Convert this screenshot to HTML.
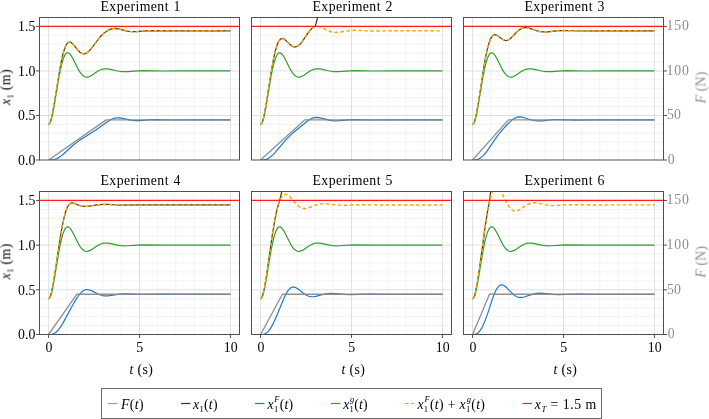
<!DOCTYPE html>
<html><head><meta charset="utf-8"><title>Experiments</title>
<style>
html,body{margin:0;padding:0;background:#fff;}
svg{display:block;}
text{font-family:"Liberation Serif", serif;will-change:transform;}
</style></head><body>
<svg width="709" height="419" viewBox="0 0 709 419">
<rect width="709" height="419" fill="#fff"/>
<clipPath id="c0"><rect x="39.5" y="17.5" width="200.0" height="142.5"/></clipPath>
<path d="M66.77,17.5V160.0M84.95,17.5V160.0M103.14,17.5V160.0M121.32,17.5V160.0M157.68,17.5V160.0M175.86,17.5V160.0M194.05,17.5V160.0M212.23,17.5V160.0M39.5,151.09H239.5M39.5,142.19H239.5M39.5,133.28H239.5M39.5,124.38H239.5M39.5,106.56H239.5M39.5,97.66H239.5M39.5,88.75H239.5M39.5,79.84H239.5M39.5,62.03H239.5M39.5,53.13H239.5M39.5,44.22H239.5M39.5,35.31H239.5" stroke="#f3f3f3" stroke-width="1" fill="none"/>
<path d="M48.59,17.5V160.0M139.5,17.5V160.0M230.41,17.5V160.0M39.5,115.47H239.5M39.5,70.94H239.5M39.5,26.41H239.5" stroke="#e0e0e0" stroke-width="1" fill="none"/>
<g clip-path="url(#c0)" fill="none" stroke-width="1.2" stroke-linejoin="round">
<path d="M48.59,124.38 L49.03,124.21 L49.5,123.7 L50.48,121.63 L51.46,118.34 L52.55,113.51 L54.48,102.77 L59.61,70.51 L61.14,62.25 L62.59,55.59 L64.05,50.27 L65.46,46.42 L66.92,43.81 L67.68,42.94 L68.45,42.39 L69.17,42.14 L69.94,42.14 L70.74,42.4 L71.57,42.89 L73.39,44.6 L77.65,49.85 L79.72,51.99 L80.85,52.84 L81.94,53.43 L83.03,53.75 L84.12,53.81 L85.39,53.55 L86.66,52.94 L88.01,51.98 L89.46,50.6 L92.01,47.6 L99.06,38.26 L101.32,35.71 L103.54,33.56 L105.94,31.64 L108.34,30.12 L110.52,29.14 L112.66,28.6 L114.77,28.45 L117.06,28.65 L119.39,29.11 L127.25,31.08 L130.12,31.5 L132.99,31.67 L136.55,31.59 L146.23,30.79 L151.86,30.58 L170.77,30.95 L189.46,30.83 L230.41,30.86" stroke="#333333"/>
<path d="M48.59,160 L51.79,159.9 L54.3,159.47 L56.74,158.61 L59.21,157.26 L61.21,155.87 L63.46,154.03 L73.68,144.82 L78.81,140.87 L82.52,138.39 L95.14,130.43 L109.28,120.49 L112.12,118.96 L114.81,118.07 L117.25,117.77 L119.9,117.89 L122.41,118.32 L130.41,120.12 L133.28,120.5 L136.15,120.65 L139.68,120.58 L149.35,119.86 L154.95,119.67 L173.86,120.01 L192.52,119.89 L230.41,119.92" stroke="#2079c7"/>
<path d="M48.59,124.38 L49.03,124.21 L49.46,123.76 L50.37,121.94 L51.32,118.96 L52.34,114.72 L54.15,105.23 L58.99,76.76 L60.41,69.58 L61.75,63.82 L63.1,59.23 L64.41,55.96 L65.06,54.76 L65.75,53.81 L66.45,53.16 L67.14,52.82 L68.08,52.79 L69.06,53.25 L70.08,54.19 L71.17,55.64 L73.14,59.05 L78.19,69.16 L79.65,71.63 L81.03,73.6 L82.3,75.03 L83.57,76.09 L84.88,76.79 L86.19,77.11 L87.14,77.12 L88.12,76.97 L90.23,76.17 L92.23,74.99 L97.28,71.54 L100.12,70.03 L102.63,69.19 L105.21,68.84 L107.14,68.88 L109.28,69.15 L116.41,70.74 L119.21,71.25 L121.68,71.53 L124.19,71.65 L127.75,71.58 L137.46,70.88 L143.14,70.7 L162.08,71.02 L180.88,70.91 L230.41,70.94" stroke="#2ea02e"/>
<path d="M48.59,124.38 L49.03,124.21 L49.5,123.7 L50.48,121.63 L51.46,118.34 L52.55,113.51 L54.48,102.77 L59.61,70.51 L61.14,62.25 L62.59,55.59 L64.05,50.27 L65.46,46.42 L66.92,43.81 L67.68,42.94 L68.45,42.39 L69.17,42.14 L69.94,42.14 L70.74,42.4 L71.57,42.89 L73.39,44.6 L77.65,49.85 L79.72,51.99 L80.85,52.84 L81.94,53.43 L83.03,53.75 L84.12,53.81 L85.39,53.55 L86.66,52.94 L88.01,51.98 L89.46,50.6 L92.01,47.6 L99.06,38.26 L101.32,35.71 L103.54,33.56 L105.94,31.64 L108.34,30.12 L110.52,29.14 L112.66,28.6 L114.77,28.45 L117.06,28.65 L119.39,29.11 L127.25,31.08 L130.12,31.5 L132.99,31.67 L136.55,31.59 L146.23,30.79 L151.86,30.58 L170.77,30.95 L189.46,30.83 L230.41,30.86" stroke="#ffa500" stroke-dasharray="3.6 2.4" stroke-width="1.45"/>
<path d="M39.5,26.41H239.5" stroke="#ff1f1f"/>
<path d="M48.59,160 L106.23,119.92 L230.41,119.92" stroke="#858585" stroke-opacity="0.9" stroke-width="1.35"/>
</g>
<rect x="39.5" y="17.5" width="200.0" height="142.5" fill="none" stroke="#505050" stroke-width="1"/>
<path d="M36.0,160H39.5M36.0,115.47H39.5M36.0,70.94H39.5M36.0,26.41H39.5" stroke="#505050" stroke-width="1" fill="none"/>
<text x="100.5" y="10.6" font-size="13.8" textLength="68" lengthAdjust="spacing">Experiment</text>
<text x="173.5" y="10.6" font-size="13.8">1</text>
<text x="35.5" y="164.7" font-size="13.8" text-anchor="end" textLength="17.4" lengthAdjust="spacing">0.0</text>
<text x="35.5" y="120.17" font-size="13.8" text-anchor="end" textLength="17.4" lengthAdjust="spacing">0.5</text>
<text x="35.5" y="75.64" font-size="13.8" text-anchor="end" textLength="17.4" lengthAdjust="spacing">1.0</text>
<text x="35.5" y="31.11" font-size="13.8" text-anchor="end" textLength="17.4" lengthAdjust="spacing">1.5</text>
<text transform="translate(10.3,87.25) rotate(-90)" font-size="13.8" text-anchor="middle" textLength="35.5" lengthAdjust="spacing"><tspan font-style="italic">x</tspan><tspan font-size="8.5" dy="3.4">1</tspan><tspan dy="-3.4"> (m)</tspan></text>
<clipPath id="c1"><rect x="251.5" y="17.5" width="200.0" height="142.5"/></clipPath>
<path d="M278.77,17.5V160.0M296.95,17.5V160.0M315.14,17.5V160.0M333.32,17.5V160.0M369.68,17.5V160.0M387.86,17.5V160.0M406.05,17.5V160.0M424.23,17.5V160.0M251.5,151.09H451.5M251.5,142.19H451.5M251.5,133.28H451.5M251.5,124.38H451.5M251.5,106.56H451.5M251.5,97.66H451.5M251.5,88.75H451.5M251.5,79.84H451.5M251.5,62.03H451.5M251.5,53.13H451.5M251.5,44.22H451.5M251.5,35.31H451.5" stroke="#f3f3f3" stroke-width="1" fill="none"/>
<path d="M260.59,17.5V160.0M351.5,17.5V160.0M442.41,17.5V160.0M251.5,115.47H451.5M251.5,70.94H451.5M251.5,26.41H451.5" stroke="#e0e0e0" stroke-width="1" fill="none"/>
<g clip-path="url(#c1)" fill="none" stroke-width="1.2" stroke-linejoin="round">
<path d="M260.59,124.38 L260.99,124.24 L261.43,123.8 L262.3,122.11 L263.21,119.28 L264.19,115.2 L266.19,104.36 L270.95,73.58 L273.28,60.23 L274.55,54.13 L275.83,49.04 L277.1,44.99 L278.37,41.97 L279.39,40.28 L280.41,39.16 L281.5,38.55 L282.63,38.47 L283.72,38.82 L284.95,39.62 L290.37,44.84 L291.75,45.89 L293.06,46.58 L294.59,46.94 L296.08,46.81 L297.57,46.19 L299.14,45.05 L300.7,43.48 L302.37,41.39 L307.9,33.18 L310.15,30.24 L311.43,28.89 L312.66,27.85 L313.9,27.06 L315.14,26.55 L321.46,4.14 L442.41,4.14" stroke="#333333"/>
<path d="M260.59,160 L263.68,159.88 L266.08,159.37 L268.45,158.34 L270.81,156.74 L272.63,155.15 L274.63,153.11 L285.14,140.71 L288.26,137.4 L291.46,134.35 L295.28,131.06 L308.12,120.58 L311.14,118.69 L312.59,118.07 L314.01,117.66 L316.3,117.38 L318.81,117.56 L321.25,118.05 L329.25,120.16 L332.12,120.6 L335.03,120.78 L339.1,120.65 L348.99,119.8 L353.9,119.63 L372.81,120.02 L391.65,119.89 L442.41,119.92" stroke="#2079c7"/>
<path d="M260.59,124.38 L261.03,124.21 L261.46,123.76 L262.37,121.94 L263.32,118.96 L264.34,114.72 L266.15,105.23 L270.99,76.76 L272.41,69.58 L273.75,63.82 L275.1,59.23 L276.41,55.96 L277.06,54.76 L277.75,53.81 L278.45,53.16 L279.14,52.82 L280.08,52.79 L281.06,53.25 L282.08,54.19 L283.17,55.64 L285.14,59.05 L290.19,69.16 L291.65,71.63 L293.03,73.6 L294.3,75.03 L295.57,76.09 L296.88,76.79 L298.19,77.11 L299.14,77.12 L300.12,76.97 L302.23,76.17 L304.23,74.99 L309.28,71.54 L312.12,70.03 L314.63,69.19 L317.21,68.84 L319.14,68.88 L321.28,69.15 L328.41,70.74 L331.21,71.25 L333.68,71.53 L336.19,71.65 L339.75,71.58 L349.46,70.88 L355.14,70.7 L374.08,71.02 L392.88,70.91 L442.41,70.94" stroke="#2ea02e"/>
<path d="M260.59,124.38 L261.06,124.18 L261.54,123.65 L262.52,121.52 L263.54,118.03 L264.63,113.08 L266.59,101.91 L271.83,68.29 L273.43,59.49 L274.92,52.57 L276.41,47.06 L277.9,42.98 L278.66,41.43 L279.43,40.23 L280.23,39.32 L281.03,38.75 L281.79,38.48 L282.59,38.46 L283.46,38.7 L284.37,39.2 L286.05,40.56 L290.23,44.71 L291.39,45.64 L292.48,46.31 L293.5,46.73 L294.52,46.94 L295.5,46.92 L296.52,46.68 L297.65,46.15 L298.77,45.36 L299.94,44.3 L301.17,42.92 L303.46,39.87 L308.45,32.42 L311.1,29.22 L312.52,27.96 L313.94,27.04 L315.35,26.48 L316.85,26.24 L318.7,26.39 L320.77,27.01 L327.65,30.38 L330.41,31.49 L332.95,32.15 L335.54,32.42 L339.06,32.27 L348.81,30.73 L354.48,30.33 L358.15,30.38 L367.83,30.9 L373.39,31.04 L392.23,30.8 L442.41,30.86" stroke="#ffa500" stroke-dasharray="3.6 2.4" stroke-width="1.45"/>
<path d="M251.5,26.41H451.5" stroke="#ff1f1f"/>
<path d="M260.59,160 L304.59,119.92 L442.41,119.92" stroke="#858585" stroke-opacity="0.9" stroke-width="1.35"/>
</g>
<rect x="251.5" y="17.5" width="200.0" height="142.5" fill="none" stroke="#505050" stroke-width="1"/>
<text x="312.5" y="10.6" font-size="13.8" textLength="68" lengthAdjust="spacing">Experiment</text>
<text x="385.5" y="10.6" font-size="13.8">2</text>
<clipPath id="c2"><rect x="463.5" y="17.5" width="200.0" height="142.5"/></clipPath>
<path d="M490.77,17.5V160.0M508.95,17.5V160.0M527.14,17.5V160.0M545.32,17.5V160.0M581.68,17.5V160.0M599.86,17.5V160.0M618.05,17.5V160.0M636.23,17.5V160.0M463.5,151.09H663.5M463.5,142.19H663.5M463.5,133.28H663.5M463.5,124.38H663.5M463.5,106.56H663.5M463.5,97.66H663.5M463.5,88.75H663.5M463.5,79.84H663.5M463.5,62.03H663.5M463.5,53.13H663.5M463.5,44.22H663.5M463.5,35.31H663.5" stroke="#f3f3f3" stroke-width="1" fill="none"/>
<path d="M472.59,17.5V160.0M563.5,17.5V160.0M654.41,17.5V160.0M463.5,115.47H663.5M463.5,70.94H663.5M463.5,26.41H663.5" stroke="#e0e0e0" stroke-width="1" fill="none"/>
<g clip-path="url(#c2)" fill="none" stroke-width="1.2" stroke-linejoin="round">
<path d="M472.59,124.38 L473.06,124.18 L473.54,123.65 L474.52,121.52 L475.54,118.01 L476.66,112.84 L478.66,101.27 L484.05,66.03 L485.68,56.87 L487.21,49.66 L488.77,43.8 L490.34,39.49 L491.14,37.86 L491.94,36.61 L492.77,35.66 L493.65,35.03 L494.3,34.78 L494.95,34.7 L496.37,34.99 L497.94,35.86 L501.65,38.71 L503.43,39.81 L505.32,40.44 L506.23,40.49 L507.14,40.37 L508.7,39.74 L510.45,38.46 L512.12,36.86 L516.7,32.01 L519.46,29.66 L520.88,28.78 L522.3,28.15 L523.72,27.76 L525.21,27.6 L527.06,27.71 L529.1,28.15 L535.94,30.52 L538.7,31.3 L541.25,31.76 L543.86,31.96 L547.97,31.8 L557.94,30.7 L562.85,30.49 L581.75,30.99 L600.63,30.82 L654.41,30.86" stroke="#333333"/>
<path d="M472.59,160 L475.65,159.85 L478.05,159.24 L480.34,158.04 L482.66,156.14 L484.55,154.13 L486.63,151.54 L497.03,136.46 L500.05,132.5 L503.17,128.81 L508.23,123.49 L511.86,120.09 L513.32,119 L514.7,118.17 L516.05,117.56 L517.43,117.15 L519.61,116.92 L521.97,117.15 L524.34,117.73 L529.68,119.49 L532.26,120.2 L535.17,120.73 L538.08,120.94 L542.15,120.79 L552.05,119.77 L556.99,119.58 L575.94,120.04 L594.85,119.88 L654.41,119.92" stroke="#2079c7"/>
<path d="M472.59,124.38 L473.03,124.21 L473.46,123.76 L474.37,121.94 L475.32,118.96 L476.34,114.72 L478.15,105.23 L482.99,76.76 L484.41,69.58 L485.75,63.82 L487.1,59.23 L488.41,55.96 L489.06,54.76 L489.75,53.81 L490.45,53.16 L491.14,52.82 L492.08,52.79 L493.06,53.25 L494.08,54.19 L495.17,55.64 L497.14,59.05 L502.19,69.16 L503.65,71.63 L505.03,73.6 L506.3,75.03 L507.57,76.09 L508.88,76.79 L510.19,77.11 L511.14,77.12 L512.12,76.97 L514.23,76.17 L516.23,74.99 L521.28,71.54 L524.12,70.03 L526.63,69.19 L529.21,68.84 L531.14,68.88 L533.28,69.15 L540.41,70.74 L543.21,71.25 L545.68,71.53 L548.19,71.65 L551.75,71.58 L561.46,70.88 L567.14,70.7 L586.08,71.02 L604.88,70.91 L654.41,70.94" stroke="#2ea02e"/>
<path d="M472.59,124.38 L473.06,124.18 L473.54,123.65 L474.52,121.52 L475.54,118.01 L476.66,112.84 L478.66,101.27 L484.05,66.03 L485.68,56.87 L487.21,49.66 L488.77,43.8 L490.34,39.49 L491.14,37.86 L491.94,36.61 L492.77,35.66 L493.65,35.03 L494.3,34.78 L494.95,34.7 L496.37,34.99 L497.94,35.86 L501.65,38.71 L503.43,39.81 L505.32,40.44 L506.23,40.49 L507.14,40.37 L508.7,39.74 L510.45,38.46 L512.12,36.86 L516.7,32.01 L519.46,29.66 L520.88,28.78 L522.3,28.15 L523.72,27.76 L525.21,27.6 L527.06,27.71 L529.1,28.15 L535.94,30.52 L538.7,31.3 L541.25,31.76 L543.86,31.96 L547.97,31.8 L557.94,30.7 L562.85,30.49 L581.75,30.99 L600.63,30.82 L654.41,30.86" stroke="#ffa500" stroke-dasharray="3.6 2.4" stroke-width="1.45"/>
<path d="M463.5,26.41H663.5" stroke="#ff1f1f"/>
<path d="M472.59,160 L508.41,119.92 L654.41,119.92" stroke="#858585" stroke-opacity="0.9" stroke-width="1.35"/>
</g>
<rect x="463.5" y="17.5" width="200.0" height="142.5" fill="none" stroke="#505050" stroke-width="1"/>
<path d="M663.5,160H667.0M663.5,115.47H667.0M663.5,70.94H667.0M663.5,26.41H667.0" stroke="#505050" stroke-width="1" fill="none"/>
<text x="524.5" y="10.6" font-size="13.8" textLength="68" lengthAdjust="spacing">Experiment</text>
<text x="597.5" y="10.6" font-size="13.8">3</text>
<text x="667.8" y="163.8" font-size="13.8" fill="#8c8c8c">0</text>
<text x="667.0" y="119.27" font-size="13.8" fill="#8c8c8c">50</text>
<text x="666.4" y="74.74" font-size="13.8" fill="#8c8c8c" textLength="22.6" lengthAdjust="spacing">100</text>
<text x="666.4" y="30.21" font-size="13.8" fill="#8c8c8c" textLength="22.6" lengthAdjust="spacing">150</text>
<text transform="translate(705.5,87.55) rotate(-90)" font-size="13.8" text-anchor="middle" textLength="31.5" lengthAdjust="spacing" fill="#8c8c8c"><tspan font-style="italic">F</tspan> (N)</text>
<clipPath id="c3"><rect x="39.5" y="191.5" width="200.0" height="143"/></clipPath>
<path d="M66.77,191.5V334.5M84.95,191.5V334.5M103.14,191.5V334.5M121.32,191.5V334.5M157.68,191.5V334.5M175.86,191.5V334.5M194.05,191.5V334.5M212.23,191.5V334.5M39.5,325.56H239.5M39.5,316.62H239.5M39.5,307.69H239.5M39.5,298.75H239.5M39.5,280.88H239.5M39.5,271.94H239.5M39.5,263H239.5M39.5,254.06H239.5M39.5,236.19H239.5M39.5,227.25H239.5M39.5,218.31H239.5M39.5,209.38H239.5" stroke="#f3f3f3" stroke-width="1" fill="none"/>
<path d="M48.59,191.5V334.5M139.5,191.5V334.5M230.41,191.5V334.5M39.5,289.81H239.5M39.5,245.12H239.5M39.5,200.44H239.5" stroke="#e0e0e0" stroke-width="1" fill="none"/>
<g clip-path="url(#c3)" fill="none" stroke-width="1.2" stroke-linejoin="round">
<path d="M48.59,298.75 L49.06,298.56 L49.57,297.96 L50.59,295.66 L51.65,291.87 L52.77,286.51 L54.81,274.34 L60.41,236.49 L62.12,226.68 L63.72,218.98 L65.39,212.64 L67.06,208.03 L67.94,206.28 L68.81,204.94 L69.72,203.94 L70.66,203.29 L71.9,202.92 L73.28,203.01 L74.7,203.46 L78.34,205.06 L80.26,205.72 L82.7,206.24 L85.25,206.43 L89.1,206.18 L98.7,204.7 L103.94,204.39 L108.01,204.47 L117.94,204.98 L122.92,205.08 L141.9,204.85 L230.41,204.91" stroke="#333333"/>
<path d="M48.59,334.5 L51.65,334.31 L52.85,334.02 L54.01,333.55 L55.17,332.88 L56.3,332.03 L58.59,329.66 L60.59,326.96 L62.81,323.39 L72.48,305.43 L75.17,300.84 L77.79,296.75 L79.94,293.85 L81.86,291.81 L83.75,290.45 L85.68,289.7 L87.61,289.56 L89.72,289.98 L91.94,290.87 L97.17,293.59 L99.75,294.72 L102.66,295.55 L105.57,295.88 L107.5,295.86 L109.65,295.65 L119.57,294.05 L124.55,293.74 L128.12,293.79 L137.83,294.33 L143.54,294.47 L162.45,294.22 L230.41,294.28" stroke="#2079c7"/>
<path d="M48.59,298.75 L49.03,298.59 L49.46,298.13 L50.37,296.31 L51.32,293.32 L52.34,289.07 L54.15,279.54 L58.99,250.97 L60.41,243.76 L61.75,237.98 L63.1,233.38 L64.41,230.09 L65.06,228.89 L65.75,227.93 L66.45,227.29 L67.14,226.94 L68.08,226.91 L69.06,227.38 L70.08,228.32 L71.17,229.77 L73.14,233.2 L78.19,243.34 L79.65,245.82 L81.03,247.8 L82.3,249.24 L83.57,250.3 L84.88,250.99 L86.19,251.31 L87.14,251.33 L88.12,251.18 L90.23,250.37 L92.23,249.19 L97.28,245.73 L100.12,244.21 L102.63,243.37 L105.21,243.02 L107.14,243.06 L109.28,243.33 L116.41,244.93 L119.21,245.44 L121.68,245.72 L124.19,245.84 L127.75,245.77 L137.46,245.06 L143.14,244.88 L162.08,245.21 L180.88,245.1 L230.41,245.12" stroke="#2ea02e"/>
<path d="M48.59,298.75 L49.06,298.56 L49.57,297.96 L50.59,295.66 L51.65,291.87 L52.77,286.51 L54.81,274.34 L60.41,236.49 L62.12,226.68 L63.72,218.98 L65.39,212.64 L67.06,208.03 L67.94,206.28 L68.81,204.94 L69.72,203.94 L70.66,203.29 L71.9,202.92 L73.28,203.01 L74.7,203.46 L78.34,205.06 L80.26,205.72 L82.7,206.24 L85.25,206.43 L89.1,206.18 L98.7,204.7 L103.94,204.39 L108.01,204.47 L117.94,204.98 L122.92,205.08 L141.9,204.85 L230.41,204.91" stroke="#ffa500" stroke-dasharray="3.6 2.4" stroke-width="1.45"/>
<path d="M39.5,200.44H239.5" stroke="#ff1f1f"/>
<path d="M48.59,334.5 L76.77,294.28 L230.41,294.28" stroke="#858585" stroke-opacity="0.9" stroke-width="1.35"/>
</g>
<rect x="39.5" y="191.5" width="200.0" height="143" fill="none" stroke="#505050" stroke-width="1"/>
<path d="M36.0,334.5H39.5M36.0,289.81H39.5M36.0,245.12H39.5M36.0,200.44H39.5M48.59,334.5V338.0M139.5,334.5V338.0M230.41,334.5V338.0" stroke="#505050" stroke-width="1" fill="none"/>
<text x="100.5" y="184.6" font-size="13.8" textLength="68" lengthAdjust="spacing">Experiment</text>
<text x="173.5" y="184.6" font-size="13.8">4</text>
<text x="35.5" y="339.2" font-size="13.8" text-anchor="end" textLength="17.4" lengthAdjust="spacing">0.0</text>
<text x="35.5" y="294.51" font-size="13.8" text-anchor="end" textLength="17.4" lengthAdjust="spacing">0.5</text>
<text x="35.5" y="249.82" font-size="13.8" text-anchor="end" textLength="17.4" lengthAdjust="spacing">1.0</text>
<text x="35.5" y="205.14" font-size="13.8" text-anchor="end" textLength="17.4" lengthAdjust="spacing">1.5</text>
<text transform="translate(10.3,261.5) rotate(-90)" font-size="13.8" text-anchor="middle" textLength="35.5" lengthAdjust="spacing"><tspan font-style="italic">x</tspan><tspan font-size="8.5" dy="3.4">1</tspan><tspan dy="-3.4"> (m)</tspan></text>
<text x="48.89" y="351.8" font-size="13.8" text-anchor="middle">0</text>
<text x="139.8" y="351.8" font-size="13.8" text-anchor="middle">5</text>
<text x="230.71" y="351.8" font-size="13.8" text-anchor="middle">10</text>
<text x="129.5" y="373.7" font-size="13.8" textLength="23.4" lengthAdjust="spacing"><tspan font-style="italic">t</tspan> (s)</text>
<clipPath id="c4"><rect x="251.5" y="191.5" width="200.0" height="143"/></clipPath>
<path d="M278.77,191.5V334.5M296.95,191.5V334.5M315.14,191.5V334.5M333.32,191.5V334.5M369.68,191.5V334.5M387.86,191.5V334.5M406.05,191.5V334.5M424.23,191.5V334.5M251.5,325.56H451.5M251.5,316.62H451.5M251.5,307.69H451.5M251.5,298.75H451.5M251.5,280.88H451.5M251.5,271.94H451.5M251.5,263H451.5M251.5,254.06H451.5M251.5,236.19H451.5M251.5,227.25H451.5M251.5,218.31H451.5M251.5,209.38H451.5" stroke="#f3f3f3" stroke-width="1" fill="none"/>
<path d="M260.59,191.5V334.5M351.5,191.5V334.5M442.41,191.5V334.5M251.5,289.81H451.5M251.5,245.12H451.5M251.5,200.44H451.5" stroke="#e0e0e0" stroke-width="1" fill="none"/>
<g clip-path="url(#c4)" fill="none" stroke-width="1.2" stroke-linejoin="round">
<path d="M260.59,298.75 L261.03,298.58 L261.46,298.12 L262.37,296.26 L263.32,293.15 L264.34,288.63 L266.48,276.11 L272.01,237.03 L274.81,219.92 L276.85,210.21 L278.19,205.19 L279.57,201.15 L284.88,178.09 L442.41,178.09" stroke="#333333"/>
<path d="M260.59,334.5 L263.5,334.29 L264.66,333.95 L265.79,333.41 L266.92,332.62 L268.01,331.61 L270.19,328.86 L272.37,325.17 L274.74,320.32 L277.14,314.76 L283.32,299.68 L286.05,293.84 L287.68,291.09 L289.25,289.11 L290.81,287.8 L292.41,287.13 L293.28,287.03 L294.15,287.1 L296.08,287.75 L298.19,289.07 L303.39,293.21 L306.01,294.96 L307.46,295.7 L308.88,296.22 L310.34,296.57 L311.83,296.74 L313.75,296.69 L315.9,296.37 L322.99,294.52 L325.79,293.92 L328.26,293.59 L330.81,293.45 L334.95,293.57 L344.88,294.4 L349.79,294.56 L368.74,294.19 L387.61,294.31 L442.41,294.28" stroke="#2079c7"/>
<path d="M260.59,298.75 L261.03,298.59 L261.46,298.13 L262.37,296.31 L263.32,293.32 L264.34,289.07 L266.15,279.54 L270.99,250.97 L272.41,243.76 L273.75,237.98 L275.1,233.38 L276.41,230.09 L277.06,228.89 L277.75,227.93 L278.45,227.29 L279.14,226.94 L280.08,226.91 L281.06,227.38 L282.08,228.32 L283.17,229.77 L285.14,233.2 L290.19,243.34 L291.65,245.82 L293.03,247.8 L294.3,249.24 L295.57,250.3 L296.88,250.99 L298.19,251.31 L299.14,251.33 L300.12,251.18 L302.23,250.37 L304.23,249.19 L309.28,245.73 L312.12,244.21 L314.63,243.37 L317.21,243.02 L319.14,243.06 L321.28,243.33 L328.41,244.93 L331.21,245.44 L333.68,245.72 L336.19,245.84 L339.75,245.77 L349.46,245.06 L355.14,244.88 L374.08,245.21 L392.88,245.1 L442.41,245.12" stroke="#2ea02e"/>
<path d="M260.59,298.75 L261.06,298.56 L261.57,297.96 L262.63,295.53 L263.72,291.51 L264.92,285.59 L267.03,272.45 L272.85,231.53 L274.66,220.71 L276.37,212.24 L278.15,205.31 L279.06,202.51 L280.01,200.11 L280.95,198.18 L281.94,196.64 L282.99,195.45 L284.05,194.69 L285.03,194.35 L286.01,194.34 L287.03,194.64 L288.12,195.25 L290.34,197.23 L295.61,203.36 L298.23,205.91 L299.68,206.98 L301.14,207.77 L302.59,208.27 L304.08,208.5 L306.01,208.42 L308.12,207.95 L315.17,205.26 L317.97,204.39 L320.48,203.89 L323.06,203.69 L327.17,203.87 L337.1,205.09 L342.05,205.32 L360.99,204.77 L379.9,204.95 L442.41,204.9" stroke="#ffa500" stroke-dasharray="3.6 2.4" stroke-width="1.45"/>
<path d="M251.5,200.44H451.5" stroke="#ff1f1f"/>
<path d="M260.59,334.5 L282.41,294.28 L442.41,294.28" stroke="#858585" stroke-opacity="0.9" stroke-width="1.35"/>
</g>
<rect x="251.5" y="191.5" width="200.0" height="143" fill="none" stroke="#505050" stroke-width="1"/>
<path d="M260.59,334.5V338.0M351.5,334.5V338.0M442.41,334.5V338.0" stroke="#505050" stroke-width="1" fill="none"/>
<text x="312.5" y="184.6" font-size="13.8" textLength="68" lengthAdjust="spacing">Experiment</text>
<text x="385.5" y="184.6" font-size="13.8">5</text>
<text x="260.89" y="351.8" font-size="13.8" text-anchor="middle">0</text>
<text x="351.8" y="351.8" font-size="13.8" text-anchor="middle">5</text>
<text x="442.71" y="351.8" font-size="13.8" text-anchor="middle">10</text>
<text x="341.5" y="373.7" font-size="13.8" textLength="23.4" lengthAdjust="spacing"><tspan font-style="italic">t</tspan> (s)</text>
<clipPath id="c5"><rect x="463.5" y="191.5" width="200.0" height="143"/></clipPath>
<path d="M490.77,191.5V334.5M508.95,191.5V334.5M527.14,191.5V334.5M545.32,191.5V334.5M581.68,191.5V334.5M599.86,191.5V334.5M618.05,191.5V334.5M636.23,191.5V334.5M463.5,325.56H663.5M463.5,316.62H663.5M463.5,307.69H663.5M463.5,298.75H663.5M463.5,280.88H663.5M463.5,271.94H663.5M463.5,263H663.5M463.5,254.06H663.5M463.5,236.19H663.5M463.5,227.25H663.5M463.5,218.31H663.5M463.5,209.38H663.5" stroke="#f3f3f3" stroke-width="1" fill="none"/>
<path d="M472.59,191.5V334.5M563.5,191.5V334.5M654.41,191.5V334.5M463.5,289.81H663.5M463.5,245.12H663.5M463.5,200.44H663.5" stroke="#e0e0e0" stroke-width="1" fill="none"/>
<g clip-path="url(#c5)" fill="none" stroke-width="1.2" stroke-linejoin="round">
<path d="M472.59,298.75 L473.14,298.5 L473.72,297.72 L474.3,296.44 L474.92,294.57 L476.15,289.41 L477.5,281.99 L479.46,268.76 L485.39,224.82 L487.39,212.35 L489.32,202.46 L492.37,178.09 L654.41,178.09" stroke="#333333"/>
<path d="M472.59,334.5 L474.15,334.46 L475.35,334.27 L476.45,333.89 L477.46,333.32 L478.48,332.51 L479.5,331.42 L481.54,328.42 L483.57,324.34 L485.75,318.92 L487.97,312.58 L492.52,298.61 L494.99,292.2 L496.48,289.22 L497.94,287.06 L499.39,285.65 L500.15,285.2 L500.92,284.94 L501.86,284.87 L502.88,285.07 L503.94,285.54 L505.06,286.29 L507.06,288.07 L512.23,293.4 L513.72,294.71 L515.1,295.71 L516.37,296.44 L517.61,296.96 L518.88,297.31 L520.15,297.47 L522.08,297.41 L524.23,296.98 L531.28,294.59 L534.08,293.82 L536.59,293.38 L539.14,293.2 L543.25,293.35 L553.21,294.44 L558.12,294.65 L577.06,294.16 L595.94,294.32 L654.41,294.28" stroke="#2079c7"/>
<path d="M472.59,298.75 L473.03,298.59 L473.46,298.13 L474.37,296.31 L475.32,293.32 L476.34,289.07 L478.15,279.54 L482.99,250.97 L484.41,243.76 L485.75,237.98 L487.1,233.38 L488.41,230.09 L489.06,228.89 L489.75,227.93 L490.45,227.29 L491.14,226.94 L492.08,226.91 L493.06,227.38 L494.08,228.32 L495.17,229.77 L497.14,233.2 L502.19,243.34 L503.65,245.82 L505.03,247.8 L506.3,249.24 L507.57,250.3 L508.88,250.99 L510.19,251.31 L511.14,251.33 L512.12,251.18 L514.23,250.37 L516.23,249.19 L521.28,245.73 L524.12,244.21 L526.63,243.37 L529.21,243.02 L531.14,243.06 L533.28,243.33 L540.41,244.93 L543.21,245.44 L545.68,245.72 L548.19,245.84 L551.75,245.77 L561.46,245.06 L567.14,244.88 L586.08,245.21 L604.88,245.1 L654.41,245.12" stroke="#2ea02e"/>
<path d="M472.59,298.75 L473.1,298.53 L473.65,297.84 L474.74,295.17 L475.9,290.62 L477.14,284.16 L479.32,269.81 L485.25,225.81 L487.03,214.46 L488.74,205.21 L490.45,197.71 L492.08,192.3 L492.88,190.33 L493.72,188.73 L494.55,187.61 L495.43,186.92 L496.3,186.68 L497.17,186.87 L498.08,187.46 L499.06,188.5 L500.08,189.94 L501.17,191.8 L506.41,202.28 L508.99,206.61 L510.45,208.46 L511.9,209.82 L513.35,210.68 L514.85,211.08 L515.79,211.1 L516.77,210.95 L518.92,210.13 L520.88,208.97 L525.97,205.5 L528.77,204.01 L531.28,203.16 L533.86,202.81 L535.79,202.84 L537.97,203.12 L545.06,204.7 L547.86,205.21 L550.34,205.5 L552.85,205.62 L556.41,205.55 L566.12,204.85 L571.79,204.66 L590.7,204.99 L609.43,204.88 L654.41,204.9" stroke="#ffa500" stroke-dasharray="3.6 2.4" stroke-width="1.45"/>
<path d="M463.5,200.44H663.5" stroke="#ff1f1f"/>
<path d="M472.59,334.5 L489.5,294.28 L654.41,294.28" stroke="#858585" stroke-opacity="0.9" stroke-width="1.35"/>
</g>
<rect x="463.5" y="191.5" width="200.0" height="143" fill="none" stroke="#505050" stroke-width="1"/>
<path d="M663.5,334.5H667.0M663.5,289.81H667.0M663.5,245.12H667.0M663.5,200.44H667.0M472.59,334.5V338.0M563.5,334.5V338.0M654.41,334.5V338.0" stroke="#505050" stroke-width="1" fill="none"/>
<text x="524.5" y="184.6" font-size="13.8" textLength="68" lengthAdjust="spacing">Experiment</text>
<text x="597.5" y="184.6" font-size="13.8">6</text>
<text x="667.8" y="338.3" font-size="13.8" fill="#8c8c8c">0</text>
<text x="667.0" y="293.61" font-size="13.8" fill="#8c8c8c">50</text>
<text x="666.4" y="248.93" font-size="13.8" fill="#8c8c8c" textLength="22.6" lengthAdjust="spacing">100</text>
<text x="666.4" y="204.24" font-size="13.8" fill="#8c8c8c" textLength="22.6" lengthAdjust="spacing">150</text>
<text transform="translate(705.5,261.8) rotate(-90)" font-size="13.8" text-anchor="middle" textLength="31.5" lengthAdjust="spacing" fill="#8c8c8c"><tspan font-style="italic">F</tspan> (N)</text>
<text x="472.89" y="351.8" font-size="13.8" text-anchor="middle">0</text>
<text x="563.8" y="351.8" font-size="13.8" text-anchor="middle">5</text>
<text x="654.71" y="351.8" font-size="13.8" text-anchor="middle">10</text>
<text x="553.5" y="373.7" font-size="13.8" textLength="23.4" lengthAdjust="spacing"><tspan font-style="italic">t</tspan> (s)</text>
<rect x="101.5" y="388.5" width="500" height="30" fill="#fff" stroke="#6a6a6a" stroke-width="1"/>
<path d="M108,403.5h9.4" stroke="#858585" stroke-width="1.2" stroke-opacity="0.8"/>
<text x="121.0" y="408.9" font-size="13.8" textLength="22.5" lengthAdjust="spacing"><tspan font-style="italic">F</tspan>(<tspan font-style="italic">t</tspan>)</text>
<path d="M181,403.5h9.4" stroke="#333333" stroke-width="1.2"/>
<text x="193.0" y="408.9" font-size="13.8" textLength="24.5" lengthAdjust="spacing"><tspan font-style="italic">x</tspan><tspan font-size="8.5" dy="3.4">1</tspan><tspan dy="-3.4">(<tspan font-style="italic">t</tspan>)</tspan></text>
<path d="M255,403.5h9.4" stroke="#2079c7" stroke-width="1.2"/>
<text x="267.6" y="408.9" font-size="13.8" textLength="25.5" lengthAdjust="spacing"><tspan font-style="italic">x</tspan><tspan font-size="8.5" dy="3.4">1</tspan><tspan font-size="8.5" font-style="italic" dx="-4.0" dy="-10.8">F</tspan><tspan dy="7.4">(<tspan font-style="italic">t</tspan>)</tspan></text>
<path d="M331,403.5h9.4" stroke="#2ea02e" stroke-width="1.2"/>
<text x="343.2" y="408.9" font-size="13.8" textLength="24.5" lengthAdjust="spacing"><tspan font-style="italic">x</tspan><tspan font-size="8.5" dy="3.4">1</tspan><tspan font-size="8.5" font-style="italic" dx="-4.0" dy="-10.8">g</tspan><tspan dy="7.4">(<tspan font-style="italic">t</tspan>)</tspan></text>
<path d="M405,403.5h9.4" stroke="#ffa500" stroke-width="1.2" stroke-dasharray="3.6 2.4"/>
<text x="417.4" y="408.9" font-size="13.8" textLength="67.5" lengthAdjust="spacing"><tspan font-style="italic">x</tspan><tspan font-size="8.5" dy="3.4">1</tspan><tspan font-size="8.5" font-style="italic" dx="-4.0" dy="-10.8">F</tspan><tspan dy="7.4">(<tspan font-style="italic">t</tspan>) + </tspan><tspan font-style="italic">x</tspan><tspan font-size="8.5" dy="3.4">1</tspan><tspan font-size="8.5" font-style="italic" dx="-4.0" dy="-10.8">g</tspan><tspan dy="7.4">(<tspan font-style="italic">t</tspan>)</tspan></text>
<path d="M522.5,403.5h9.4" stroke="#ff1f1f" stroke-width="1.2"/>
<text x="534.8" y="408.9" font-size="13.8" textLength="61.5" lengthAdjust="spacing"><tspan font-style="italic">x</tspan><tspan font-size="8.5" font-style="italic" dy="3.4">T</tspan><tspan dy="-3.4"> = 1.5 m</tspan></text>
</svg></body></html>
